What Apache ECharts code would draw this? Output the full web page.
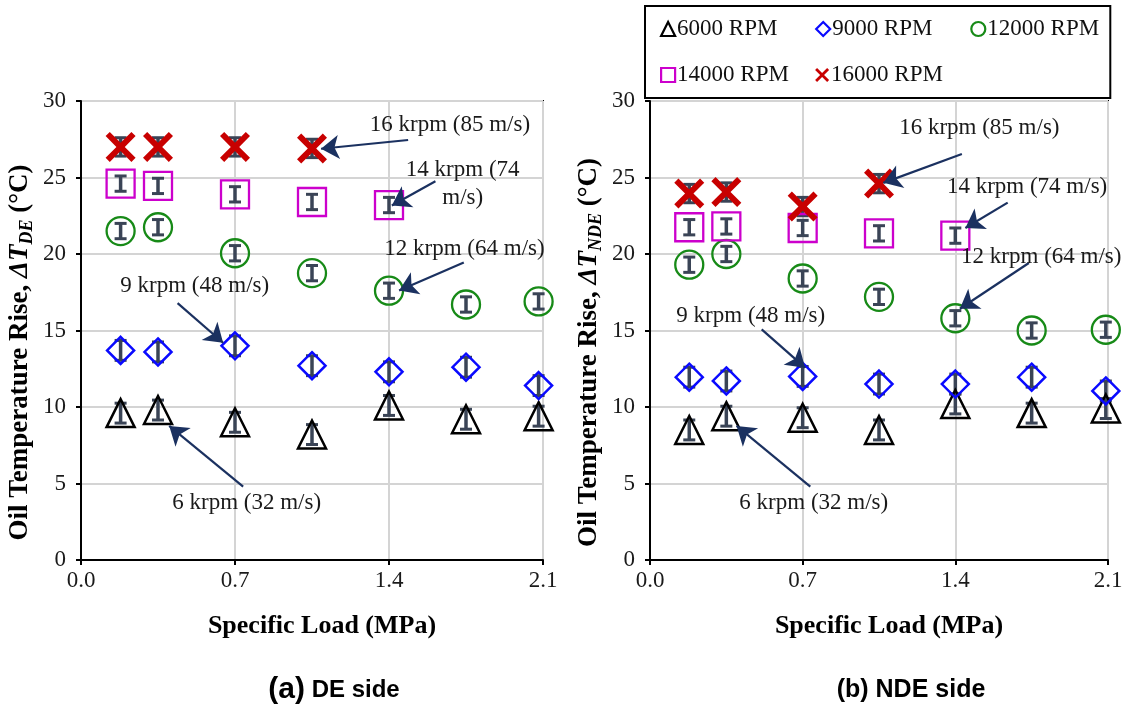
<!DOCTYPE html>
<html><head><meta charset="utf-8">
<script src="https://cdn.jsdelivr.net/npm/echarts@6/dist/echarts.min.js"></script>
<style>html,body{margin:0;padding:0;background:#fff}#c{width:1130px;height:711px}</style>
</head><body><div id="c"></div>
<script>
// ---- data ----
const loadDE  = [0.18, 0.35, 0.70, 1.05, 1.40, 1.75, 2.08];
const loadNDE = [0.18, 0.35, 0.70, 1.05, 1.40, 1.75, 2.09];
const seriesNames = ['6000 RPM', '9000 RPM', '12000 RPM', '14000 RPM', '16000 RPM'];

const de6k  = [9.6, 9.8, 9.0, 8.2, 10.1, 9.2, 9.4];
const de9k  = [13.7, 13.6, 14.0, 12.7, 12.3, 12.6, 11.4];
const de12k = [21.5, 21.75, 20.05, 18.75, 17.6, 16.7, 16.9];
const de14k = [24.6, 24.45, 23.9, 23.4, 23.2];
const de16k = [27.0, 27.0, 27.0, 26.9];

const nde6k  = [8.5, 9.4, 9.3, 8.5, 10.2, 9.6, 9.9];
const nde9k  = [11.95, 11.7, 12.0, 11.5, 11.5, 11.95, 11.05];
const nde12k = [19.3, 20.0, 18.4, 17.2, 15.8, 15.0, 15.05];
const nde14k = [21.75, 21.8, 21.7, 21.35, 21.2];
const nde16k = [23.95, 24.05, 23.1, 24.6];

// error half-widths (°C)
const errDE6k  = [0.65, 0.65, 0.65, 0.65, 0.65, 0.65, 0.65];
const errDE9k  = [0.65, 0.65, 0.65, 0.65, 0.65, 0.65, 0.65];
const errDE12k = [0.5, 0.5, 0.5, 0.5, 0.5, 0.5, 0.5];
const errDE14k = [0.5, 0.5, 0.5, 0.5, 0.5];
const errDE16k = [0.6, 0.6, 0.6, 0.6];
const errNDE6k  = [0.65, 0.65, 0.65, 0.65, 0.65, 0.65, 0.65];
const errNDE9k  = [0.65, 0.65, 0.65, 0.65, 0.65, 0.65, 0.65];
const errNDE12k = [0.5, 0.5, 0.5, 0.5, 0.5, 0.5, 0.5];
const errNDE14k = [0.5, 0.5, 0.5, 0.5, 0.5];
const errNDE16k = [0.6, 0.6, 0.6, 0.6];

const xTicks = [0, 0.7, 1.4, 2.1];
const yTicks = [0, 5, 10, 15, 20, 25, 30];

// annotations (data coordinates)
const annoTextDE = ['16 krpm (85 m/s)', '14 krpm (74\nm/s)', '12 krpm (64 m/s)', '9 krpm (48 m/s)', '6 krpm (32 m/s)'];
const annoPosDE  = [[1.677, 28.43], [1.735, 24.55], [1.743, 20.35], [0.517, 17.88], [0.753, 3.76]];
const arrowFromDE = [[1.487, 27.45], [1.611, 24.76], [1.74, 19.45], [0.439, 16.79], [0.737, 4.8]];
const arrowToDE   = [[1.091, 26.88], [1.413, 23.17], [1.446, 17.62], [0.646, 14.2], [0.401, 8.76]];

const annoTextNDE = ['16 krpm (85 m/s)', '14 krpm (74 m/s)', '12 krpm (64 m/s)', '9 krpm (48 m/s)', '6 krpm (32 m/s)'];
const annoPosNDE  = [[1.51, 28.25], [1.729, 24.39], [1.794, 19.8], [0.462, 15.93], [0.751, 3.72]];
const arrowFromNDE = [[1.43, 26.53], [1.64, 23.36], [1.737, 19.41], [0.512, 15.07], [0.735, 4.8]];
const arrowToNDE   = [[1.07, 24.65], [1.446, 21.7], [1.421, 16.42], [0.711, 12.57], [0.397, 8.76]];

// ---- styles ----
const SERIF = 'Liberation Serif';
const xPath = 'path://M1.4,0 L5,3.6 L8.6,0 L10,1.4 L6.4,5 L10,8.6 L8.6,10 L5,6.4 L1.4,10 L0,8.6 L3.6,5 L0,1.4 Z';
const markerStyles = [
  {symbol: 'triangle', size: 28, itemStyle: {color: 'rgba(0,0,0,0)', borderColor: '#000000', borderWidth: 2.5, opacity: 1}, icon: 'triangle'},
  {symbol: 'diamond', size: 27, itemStyle: {color: 'rgba(0,0,0,0)', borderColor: '#0a0aff', borderWidth: 2.5, opacity: 1}, icon: 'diamond'},
  {symbol: 'circle', size: 28, itemStyle: {color: 'rgba(0,0,0,0)', borderColor: '#178a17', borderWidth: 2.3, opacity: 1}, icon: 'circle'},
  {symbol: 'rect', size: 28, itemStyle: {color: 'rgba(0,0,0,0)', borderColor: '#cc00cc', borderWidth: 2.3, opacity: 1}, icon: 'rect'},
  {symbol: xPath, size: 30, itemStyle: {color: '#c80000', borderWidth: 0, opacity: 1}, icon: xPath}
];
const ERR_COLOR = '#3a4456';

function pairs(xs, ys) { return ys.map((y, i) => [xs[i], y]); }
function errData(xs, ys, es) { return ys.map((y, i) => [xs[i], y - es[i], y + es[i]]); }

const panels = [
  {x: loadDE, ys: [de6k, de9k, de12k, de14k, de16k], es: [errDE6k, errDE9k, errDE12k, errDE14k, errDE16k],
   annoText: annoTextDE, annoPos: annoPosDE, from: arrowFromDE, to: arrowToDE},
  {x: loadNDE, ys: [nde6k, nde9k, nde12k, nde14k, nde16k], es: [errNDE6k, errNDE9k, errNDE12k, errNDE14k, errNDE16k],
   annoText: annoTextNDE, annoPos: annoPosNDE, from: arrowFromNDE, to: arrowToNDE}
];

function renderErr(params, api) {
  const x = api.value(0), lo = api.value(1), hi = api.value(2);
  const a = api.coord([x, lo]), b = api.coord([x, hi]);
  const w = 6;
  return {type: 'group', children: [
    {type: 'line', shape: {x1: a[0], y1: a[1], x2: b[0], y2: b[1]}, style: {stroke: ERR_COLOR, lineWidth: 3.5}},
    {type: 'line', shape: {x1: a[0] - w, y1: a[1], x2: a[0] + w, y2: a[1]}, style: {stroke: ERR_COLOR, lineWidth: 3}},
    {type: 'line', shape: {x1: b[0] - w, y1: b[1], x2: b[0] + w, y2: b[1]}, style: {stroke: ERR_COLOR, lineWidth: 3}}
  ]};
}

const series = [];
panels.forEach((p, pi) => {
  p.ys.forEach((ys, si) => {
    series.push({
      type: 'custom', xAxisIndex: pi, yAxisIndex: pi, z: 2, silent: true,
      renderItem: renderErr, encode: {x: 0, y: [1, 2]},
      data: errData(p.x, ys, p.es[si])
    });
  });
  p.ys.forEach((ys, si) => {
    const m = markerStyles[si];
    series.push({
      type: 'scatter', name: seriesNames[si], xAxisIndex: pi, yAxisIndex: pi, z: 3,
      symbol: m.symbol, symbolSize: m.size, itemStyle: m.itemStyle,
      data: pairs(p.x, ys)
    });
  });
  series.push({
    type: 'lines', coordinateSystem: 'cartesian2d', xAxisIndex: pi, yAxisIndex: pi, z: 4, silent: true,
    symbol: ['none', 'arrow'], symbolSize: 18,
    lineStyle: {color: '#1b3160', width: 2.2, opacity: 1, curveness: 0},
    data: p.from.map((f, i) => ({coords: [f, p.to[i]]}))
  });
  series.push({
    type: 'scatter', xAxisIndex: pi, yAxisIndex: pi, z: 5, silent: true,
    symbolSize: 1, itemStyle: {color: 'rgba(0,0,0,0)', opacity: 1},
    label: {show: true, position: 'inside', formatter: (d) => d.name,
      fontFamily: SERIF, fontSize: 23, color: '#1a1a1a', lineHeight: 28, align: 'center'},
    data: p.annoPos.map((pt, i) => ({name: p.annoText[i], value: pt}))
  });
});

function yAxis(gi, sub) {
  return {
    type: 'value', gridIndex: gi, min: 0, max: 30, interval: 5,
    axisLine: {show: true, lineStyle: {color: '#000', width: 2}},
    axisTick: {show: true, inside: false, length: 5, lineStyle: {color: '#000', width: 2}},
    axisLabel: {fontFamily: SERIF, fontSize: 23, color: '#1a1a1a', margin: 15,
      formatter: (v) => yTicks.includes(v) ? String(v) : ''},
    splitLine: {show: true, lineStyle: {color: '#d4d4d4', width: 2}},
    name: '{a|Oil Temperature Rise, }{i|ΔT}{s|' + sub + '}{a| (°C)}',
    nameLocation: 'middle', nameGap: 45,
    nameTextStyle: {padding: [0, 44, 0, 0], rich: {
      a: {fontFamily: SERIF, fontWeight: 'bold', fontSize: 27, color: '#000', lineHeight: 32},
      i: {fontFamily: SERIF, fontWeight: 'bold', fontStyle: 'italic', fontSize: 27, color: '#000', lineHeight: 32},
      s: {fontFamily: SERIF, fontWeight: 'bold', fontStyle: 'italic', fontSize: 18, color: '#000', lineHeight: 19, verticalAlign: 'bottom'}
    }}
  };
}
function xAxis(gi) {
  return {
    type: 'value', gridIndex: gi, min: 0, max: 2.1, interval: 0.7,
    axisLine: {show: true, onZero: false, lineStyle: {color: '#000', width: 2}},
    axisTick: {show: true, length: 5, lineStyle: {color: '#000', width: 2}},
    axisLabel: {fontFamily: SERIF, fontSize: 23, color: '#1a1a1a', margin: 9,
      formatter: (v) => xTicks.some(t => Math.abs(t - v) < 1e-6) ? v.toFixed(1) : ''},
    splitLine: {show: true, lineStyle: {color: '#d4d4d4', width: 2}},
    name: 'Specific Load (MPa)', nameLocation: 'middle', nameGap: 53,
    nameTextStyle: {fontFamily: SERIF, fontWeight: 'bold', fontSize: 26, color: '#000', padding: [0, 0, 0, 20]}
  };
}

const option = {
  animation: false,
  backgroundColor: '#fff',
  grid: [
    {left: 81, right: 587, top: 101, bottom: 151, show: true, borderColor: '#000', borderWidth: 2, backgroundColor: 'rgba(0,0,0,0)'},
    {left: 650, right: 22, top: 101, bottom: 151, show: true, borderColor: '#000', borderWidth: 2, backgroundColor: 'rgba(0,0,0,0)'}
  ],
  xAxis: [xAxis(0), xAxis(1)],
  yAxis: [yAxis(0, 'DE'), yAxis(1, 'NDE')],
  legend: {
    show: true, left: 645, top: 6, width: 460, orient: 'horizontal',
    padding: [11, 7, 11, 15], itemGap: 22, itemWidth: 14, itemHeight: 14,
    borderColor: '#000', borderWidth: 2, backgroundColor: '#fff',
    textStyle: {fontFamily: SERIF, fontSize: 23, color: '#111', width: 116, lineHeight: 24, padding: [0, 0, 0, -3]},
    data: seriesNames.map((n, i) => ({name: n, icon: markerStyles[i].icon,
      itemStyle: i === 4 ? {color: '#c80000', borderWidth: 0} :
        {color: 'rgba(0,0,0,0)', borderColor: markerStyles[i].itemStyle.borderColor, borderWidth: 2.2}}))
  },
  graphic: [
    {type: 'text', x: 334, y: 690, style: {text: '{a|(a)}{b| DE side}', align: 'center', verticalAlign: 'middle',
      rich: {a: {fontFamily: 'Liberation Sans', fontWeight: 'bold', fontSize: 30, fill: '#000'},
             b: {fontFamily: 'Liberation Sans', fontWeight: 'bold', fontSize: 24, fill: '#000'}}}},
    {type: 'text', x: 911, y: 690, style: {text: '(b) NDE side', align: 'center', verticalAlign: 'middle',
      font: 'bold 25px "Liberation Sans"', fill: '#000'}}
  ],
  series: series
};

const chart = echarts.init(document.getElementById('c'), null, {renderer: 'canvas'});
chart.setOption(option);
</script>
</body></html>
